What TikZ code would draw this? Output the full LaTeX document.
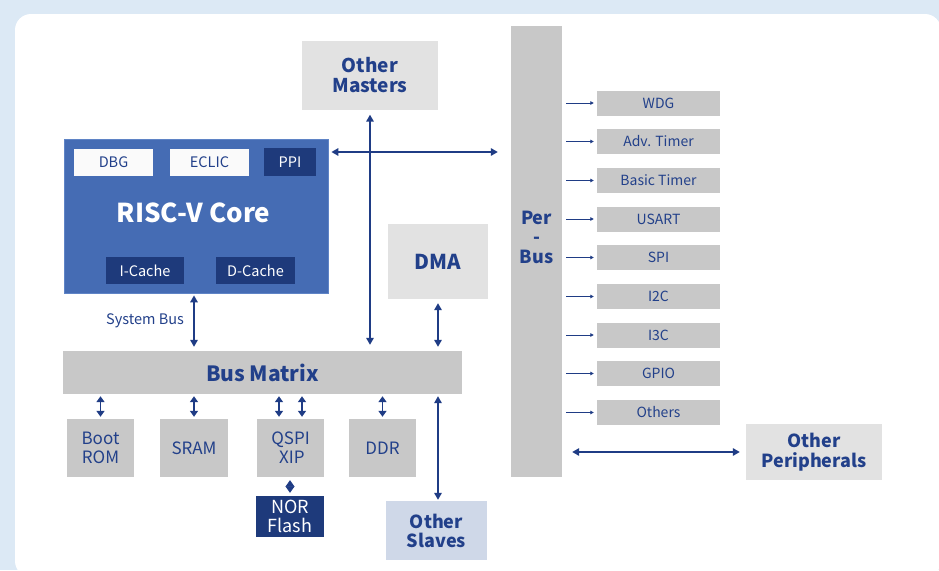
\documentclass[tikz,border=0pt]{standalone}
\usepackage{fontspec}
\setmainfont{Noto Sans CJK SC}
\usetikzlibrary{arrows.meta}
\definecolor{bgblue}{HTML}{DCE9F5}
\definecolor{tblue}{HTML}{22408A}
\definecolor{acol}{HTML}{1F3C85}
\definecolor{navy}{HTML}{1E3A7B}
\definecolor{coreblue}{HTML}{456CB4}
\definecolor{coreedge}{HTML}{5F84C6}
\definecolor{gdark}{HTML}{C8C8C8}
\definecolor{glight}{HTML}{E2E2E2}
\definecolor{slate}{HTML}{CFD8E8}
\newcommand\fsz[2]{\fontsize{#1}{#2}\selectfont}
\tikzset{
  box/.style={inner sep=0pt, align=center, text=tblue},
  darkgray/.style={box, fill=gdark},
  lightgray/.style={box, fill=glight},
  navybox/.style={box, fill=navy, text=white},
  whitebox/.style={box, fill=white!96!gray},
  bigarr/.style={draw=acol, line width=1.6pt, {Triangle[length=7pt,width=7.5pt]}-{Triangle[length=7pt,width=7.5pt]}},
  smallarr/.style={draw=acol, line width=1.5pt, {Triangle[length=6pt,width=8pt]}-{Triangle[length=6pt,width=8pt]}},
  parr/.style={draw=acol, line width=0.9pt, -{Triangle[length=3.5pt,width=3.5pt]}},
  diam/.style={draw=acol, line width=0.8pt, {Triangle[length=6.5pt,width=9pt]}-{Triangle[length=6.5pt,width=9pt]}},
  periph/.style={darkgray, minimum width=123pt, minimum height=25pt, font=\fsz{14}{17}},
  bottombox/.style={darkgray, minimum width=67pt, minimum height=58pt, font=\fsz{17}{19}}
}
\begin{document}
\begin{tikzpicture}[x=1pt,y=-1pt]
\useasboundingbox (0,0) rectangle (939,570);
\fill[bgblue] (0,0) rectangle (939,570);
\fill[white, rounded corners=16pt] (15,14) rectangle (941,577);

% masters
\node[lightgray, minimum width=136pt, minimum height=69pt, font=\fsz{19}{20.5}\bfseries] (masters) at (370,75) {Other\\Masters};

% core
\node[box, fill=coreblue, draw=coreedge, line width=0.8pt, minimum width=264pt, minimum height=154pt] (core) at (196,216) {};
\node[whitebox, minimum width=79pt, minimum height=27pt, font=\fsz{14.5}{17}] (dbg) at (113.5,162.5) {DBG};
\node[whitebox, minimum width=79pt, minimum height=27pt, font=\fsz{14.5}{17}] (eclic) at (209.5,162.5) {ECLIC};
\node[navybox, minimum width=52pt, minimum height=28pt, font=\fsz{14.5}{17}] (ppi) at (290,162) {PPI};
\node[box, text=white, font=\fsz{26}{28}\bfseries] (coretitle) at (193.5,213) {RISC-V Core};
\node[navybox, minimum width=78pt, minimum height=27pt, font=\fsz{14.5}{17}] (icache) at (145,270.5) {I-Cache};
\node[navybox, minimum width=79pt, minimum height=27pt, font=\fsz{14.5}{17}] (dcache) at (255.5,270.5) {D-Cache};

% per-bus
\node[darkgray, minimum width=51pt, minimum height=451pt] (perbus) at (536.5,251.5) {};
\node[box, font=\fsz{18}{19.5}\bfseries] (perbustext) at (536.5,237) {Per\\-\\Bus};

% peripherals
\node[periph] (wdg) at (658.5,103) {WDG};
\node[periph] (adv) at (658.5,141.5) {Adv. Timer};
\node[periph] (basic) at (658.5,180.5) {Basic Timer};
\node[periph] (usart) at (658.5,219) {USART};
\node[periph] (spi) at (658.5,257.5) {SPI};
\node[periph] (iic) at (658.5,296.5) {I2C};
\node[periph] (iiic) at (658.5,335) {I3C};
\node[periph] (gpio) at (658.5,373.5) {GPIO};
\node[periph] (others) at (658.5,412.5) {Others};
\foreach \p in {wdg,adv,basic,usart,spi,iic,iiic,gpio,others}
  \draw[parr, shorten <=4pt, shorten >=3pt] (perbus.east |- \p.west) -- (\p.west);

\node[lightgray, minimum width=136pt, minimum height=56pt, font=\fsz{18}{20}\bfseries] (otherperiph) at (814,452) {Other\\Peripherals};

% DMA
\node[lightgray, minimum width=100pt, minimum height=75pt, font=\fsz{20.5}{22}\bfseries] (dma) at (438,261.5) {DMA};

% bus matrix
\node[darkgray, minimum width=399pt, minimum height=43pt, font=\fsz{21}{23}\bfseries] (busmatrix) at (262.5,372.5) {Bus Matrix};

% bottom
\node[bottombox] (bootrom) at (100.5,448) {Boot\\ROM};
\node[bottombox, minimum width=68pt] (sram) at (194,448) {SRAM};
\node[bottombox] (qspi) at (290.5,448) {QSPI\\\,XIP};
\node[bottombox] (ddr) at (382.5,448) {DDR};
\node[navybox, minimum width=68pt, minimum height=41pt, font=\fsz{18}{19}] (nor) at (290,516.5) {NOR\\Flash};
\node[box, fill=slate, minimum width=101pt, minimum height=59pt, font=\fsz{18}{19}\bfseries] (otherslaves) at (436.5,530.5) {Other\\Slaves};

% system bus label
\node[box, font=\fsz{14.5}{17}] (sblabel) at (145,321) {System Bus};

% connectors
\draw[bigarr, shorten <=3pt, shorten >=13pt] (core.east |- 0,152) -- (perbus.west |- 0,152);
\draw[bigarr, shorten <=5pt, shorten >=6pt] (masters.south) -- (masters.south |- busmatrix.north);
\draw[bigarr, shorten <=2pt, shorten >=4pt] (sram.north |- core.south) -- (sram.north |- busmatrix.north);
\draw[bigarr, shorten <=4pt, shorten >=4pt] (dma.south) -- (dma.south |- busmatrix.north);
\draw[bigarr, shorten <=2pt, shorten >=1pt] (dma.south |- busmatrix.south) -- (dma.south |- otherslaves.north);
\draw[bigarr, shorten <=10pt, shorten >=6pt] (perbus.east |- otherperiph.west) -- (otherperiph.west);

\coordinate (q1) at ([xshift=-11.5pt]qspi.north);
\coordinate (q2) at ([xshift=11.5pt]qspi.north);
\foreach \b in {bootrom,sram,ddr}
  \draw[smallarr, shorten <=2pt, shorten >=2pt] (\b.north |- busmatrix.south) -- (\b.north);
\draw[smallarr, shorten <=2pt, shorten >=2pt] (q1 |- busmatrix.south) -- (q1);
\draw[smallarr, shorten <=2pt, shorten >=2pt] (q2 |- busmatrix.south) -- (q2);
\draw[diam, shorten <=3pt, shorten >=3pt] (qspi.south -| nor.north) -- (nor.north);
\end{tikzpicture}
\end{document}
